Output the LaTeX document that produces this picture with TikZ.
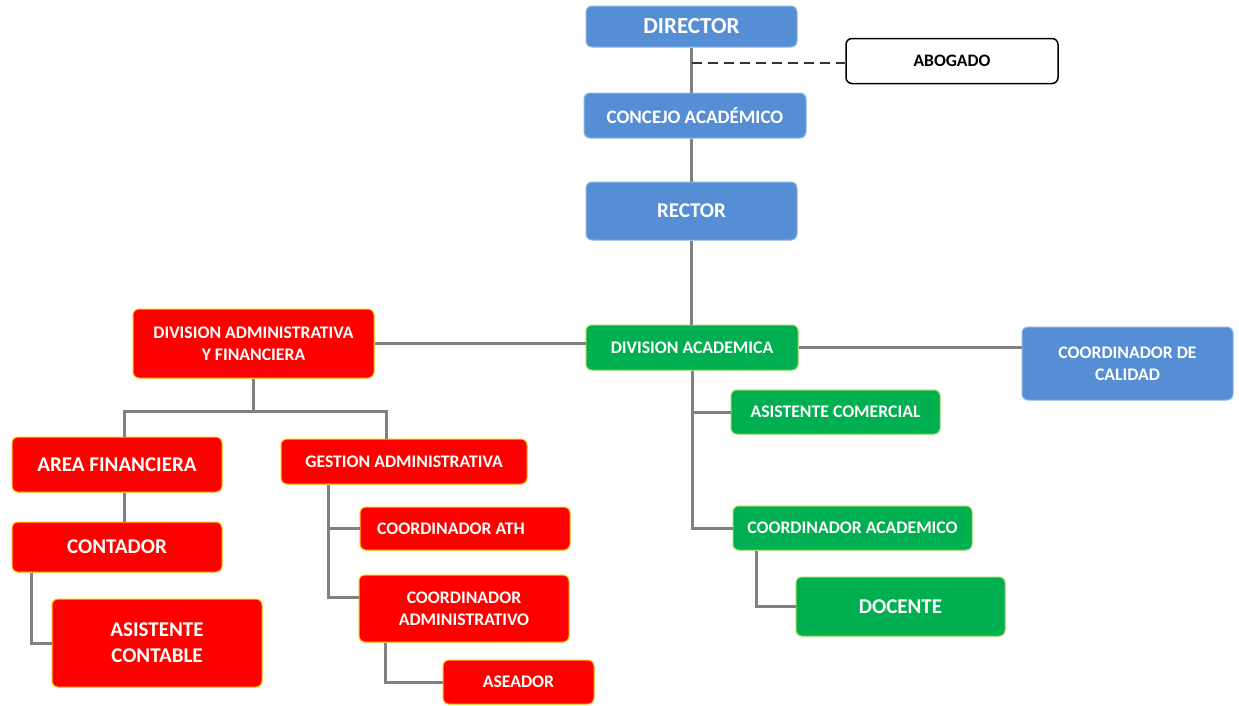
\documentclass[tikz,border=0pt]{standalone}
\usepackage{fontspec}
\setmainfont{Carlito}
\usetikzlibrary{positioning}

\definecolor{azul}{HTML}{558ED5}
\definecolor{azulborde}{HTML}{8EB4E3}
\definecolor{rojo}{HTML}{FF0000}
\definecolor{rojoborde}{HTML}{FFC000}
\definecolor{verde}{HTML}{00B050}
\definecolor{verdeborde}{HTML}{92D050}
\definecolor{gris}{HTML}{808080}

\tikzset{
  cargo/.style={rounded corners=6pt, line width=1pt, align=center, text=white,
    font=\bfseries\fontsize{17.7}{22}\selectfont, inner sep=0pt},
  azulbox/.style={cargo, fill=azul, draw=azulborde},
  rojobox/.style={cargo, fill=rojo, draw=rojoborde},
  verdebox/.style={cargo, fill=verde, draw=verdeborde},
  grande/.style={font=\bfseries\fontsize{21}{26}\selectfont},
  enlace/.style={draw=gris, line width=3pt}
}

\begin{document}
\begin{tikzpicture}[x=1pt, y=-1pt]
    \useasboundingbox (0,0) rectangle (1239,705);

    % Direccion
    \node[azulbox, font=\bfseries\fontsize{23}{26}\selectfont, minimum width=211pt, minimum height=41pt] (director) at (691.5,26.5) {DIRECTOR};
    \node[cargo, draw=black, fill=white, text=black, line width=1.5pt, font=\bfseries\fontsize{17.5}{20}\selectfont,
          minimum width=212pt, minimum height=45pt] (abogado) at (952,61) {ABOGADO};
    \node[azulbox, font=\bfseries\fontsize{19}{22}\selectfont, minimum width=222pt, minimum height=45pt] (concejo) at (695,115.5) {CONCEJO ACADÉMICO};
    \node[azulbox, grande, minimum width=211pt, minimum height=58pt] (rector) at (691.5,211) {RECTOR};

    % Division academica
    \node[verdebox, minimum width=212pt, minimum height=45pt] (divacad) at (692,347.5) {DIVISION ACADEMICA};
    \node[azulbox, minimum width=211pt, minimum height=73pt] (calidad) at (1127.5,363.5) {COORDINADOR DE\\CALIDAD};
    \node[verdebox, minimum width=209pt, minimum height=44pt] (ascomercial) at (835.5,412) {ASISTENTE COMERCIAL};
    \node[verdebox, minimum width=239pt, minimum height=44pt] (coordacad) at (852.5,528) {COORDINADOR ACADEMICO};
    \node[verdebox, grande, minimum width=209pt, minimum height=59pt] (docente) at (900.5,606.5) {DOCENTE};

    % Division administrativa
    \node[rojobox, minimum width=241pt, minimum height=69pt] (divadmin) at (253.5,343.5) {DIVISION ADMINISTRATIVA\\Y FINANCIERA};
    \node[rojobox, grande, minimum width=210pt, minimum height=55pt] (financiera) at (117,464.5) {AREA FINANCIERA};
    \node[rojobox, minimum width=246pt, minimum height=45pt] (gestion) at (404,461.5) {GESTION ADMINISTRATIVA};
    \node[rojobox, grande, minimum width=210pt, minimum height=50pt] (contador) at (117,547) {CONTADOR};
    \node[rojobox, grande, minimum width=210pt, minimum height=88pt] (ascontable) at (157,643) {ASISTENTE\\CONTABLE};
    \node[rojobox, minimum width=210pt, minimum height=43pt] (ath) at (465,528.5) {COORDINADOR ATH\hspace{28pt}};
    \node[rojobox, minimum width=210pt, minimum height=67pt] (coordadmin) at (464,608.5) {COORDINADOR\\ADMINISTRATIVO};
    \node[rojobox, minimum width=151pt, minimum height=44pt] (aseador) at (518.5,682) {ASEADOR};

    % Lineas verticales del eje central
    \draw[enlace] (director.south) -- (director.south |- concejo.north);
    \draw[enlace] (director.south |- concejo.south) -- (director.south |- rector.north);
    \draw[enlace] (rector.south) -- (rector.south |- divacad.north);
    \coordinate (asesoria) at (691.5,63);
    \draw[line width=2pt, draw=black!80, dash pattern=on 10pt off 6pt] (asesoria) -- (asesoria -| abogado.west);

    % Ramas horizontales
    \draw[enlace] (divadmin.east) -- (divadmin.east -| divacad.west);
    \draw[enlace] (divacad.east) -- (divacad.east -| calidad.west);

    % Arbol administrativo
    \coordinate (reparto) at (253.5,411);
    \draw[enlace] (divadmin.south) -- (reparto);
    \draw[enlace] (reparto) -| ([xshift=7pt]financiera.north);
    \draw[enlace] (reparto) -| ([xshift=-18pt]gestion.north);
    \draw[enlace] ([xshift=7pt]financiera.south) -- ([xshift=7pt]contador.north);
    \draw[enlace] ([xshift=20pt]contador.south west) |- (ascontable.west);
    \draw[enlace] ([xshift=48pt]gestion.south west) |- (ath.west);
    \draw[enlace] ([xshift=48pt]gestion.south west) |- ([yshift=11pt]coordadmin.west);
    \draw[enlace] ([xshift=27pt]coordadmin.south west) |- (aseador.west);

    % Arbol academico
    \draw[enlace] (divacad.south) |- (ascomercial.west);
    \draw[enlace] (divacad.south) |- (coordacad.west);
    \draw[enlace] ([xshift=24pt]coordacad.south west) |- (docente.west);
\end{tikzpicture}
\end{document}
